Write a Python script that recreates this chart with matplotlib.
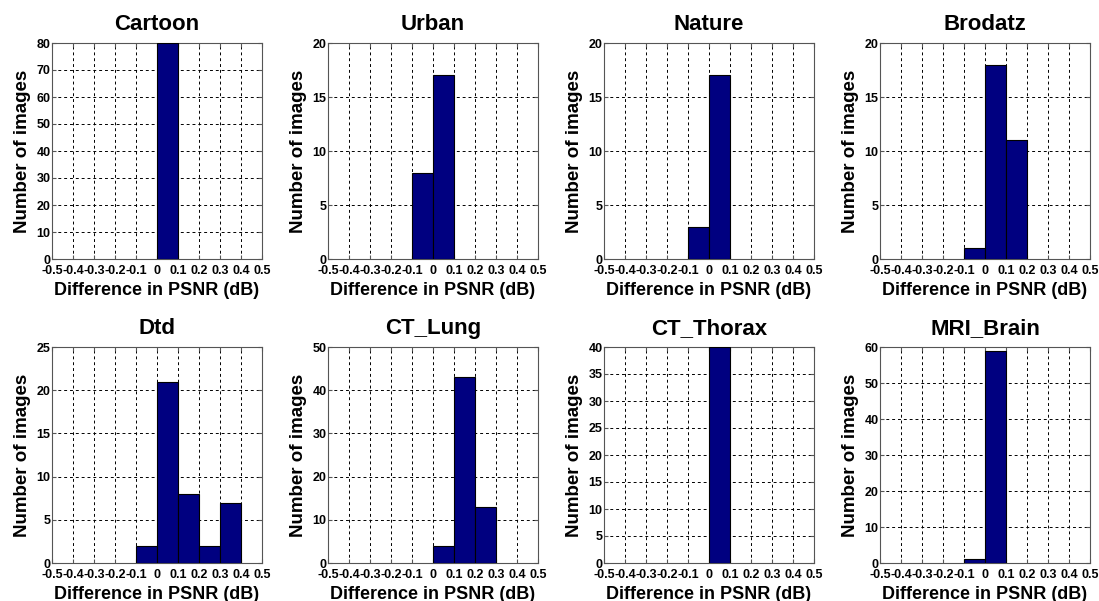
import numpy as np
import matplotlib
matplotlib.use('Agg')
from matplotlib import pyplot as plt

plt.rcParams['font.family'] = ['Liberation Sans', 'DejaVu Sans']

# datasets and histogram counts (bin left edges, width 0.1 dB)
titles = ['Cartoon', 'Urban', 'Nature', 'Brodatz', 'Dtd', 'CT_Lung', 'CT_Thorax', 'MRI_Brain']
bin_lefts = [
    [0.0],
    [-0.1, 0.0],
    [-0.1, 0.0],
    [-0.1, 0.0, 0.1],
    [-0.1, 0.0, 0.1, 0.2, 0.3],
    [0.0, 0.1, 0.2],
    [0.0],
    [-0.1, 0.0],
]
counts = [
    [80],
    [8, 17],
    [3, 17],
    [1, 18, 11],
    [2, 21, 8, 2, 7],
    [4, 43, 13],
    [40],
    [1, 59],
]
ymax = [80, 20, 20, 20, 25, 50, 40, 60]
ystep = [10, 5, 5, 5, 5, 10, 5, 10]

xticks = np.round(np.arange(-0.5, 0.51, 0.1), 1)
xticklabels = ['-0.5', '-0.4', '-0.3', '-0.2', '-0.1', '0', '0.1', '0.2', '0.3', '0.4', '0.5']

fig = plt.figure(figsize=(10.99, 6.01), dpi=100)
W, H = 1099, 601
lefts = [52, 328, 604, 880]
tops = [43, 347]
aw, ah = 210, 216

for i in range(8):
    r, c = divmod(i, 4)
    ax = fig.add_axes([lefts[c] / W, 1 - (tops[r] + ah) / H, aw / W, ah / H])
    ax.bar(bin_lefts[i], counts[i], width=0.1, align='edge',
           color='#000080', edgecolor='black', linewidth=0.8, zorder=3)
    ax.set_xlim(-0.5, 0.5)
    ax.set_ylim(0, ymax[i])
    ax.set_xticks(xticks)
    ax.set_xticklabels(xticklabels)
    ax.set_yticks(np.arange(0, ymax[i] + 1, ystep[i]))
    ax.grid(True, color='black', ls=(0, (3, 3)), lw=0.7, zorder=0)
    ax.tick_params(direction='in', length=3, labelsize=9, top=True, right=True, color='#555555')
    ax.tick_params(axis='x', pad=4)
    ax.tick_params(axis='y', pad=1)
    for lab in ax.get_xticklabels() + ax.get_yticklabels():
        lab.set_fontweight('bold')
    for sp in ax.spines.values():
        sp.set_color('#555555')
        sp.set_linewidth(0.8)
    ax.set_title(titles[i], fontsize=16, fontweight='bold', pad=9)
    ax.set_xlabel('Difference in PSNR (dB)', fontsize=13, fontweight='bold', labelpad=4)
    ax.set_ylabel('Number of images', fontsize=13.5, fontweight='bold', labelpad=4)

fig.savefig('out.png', dpi=100)
